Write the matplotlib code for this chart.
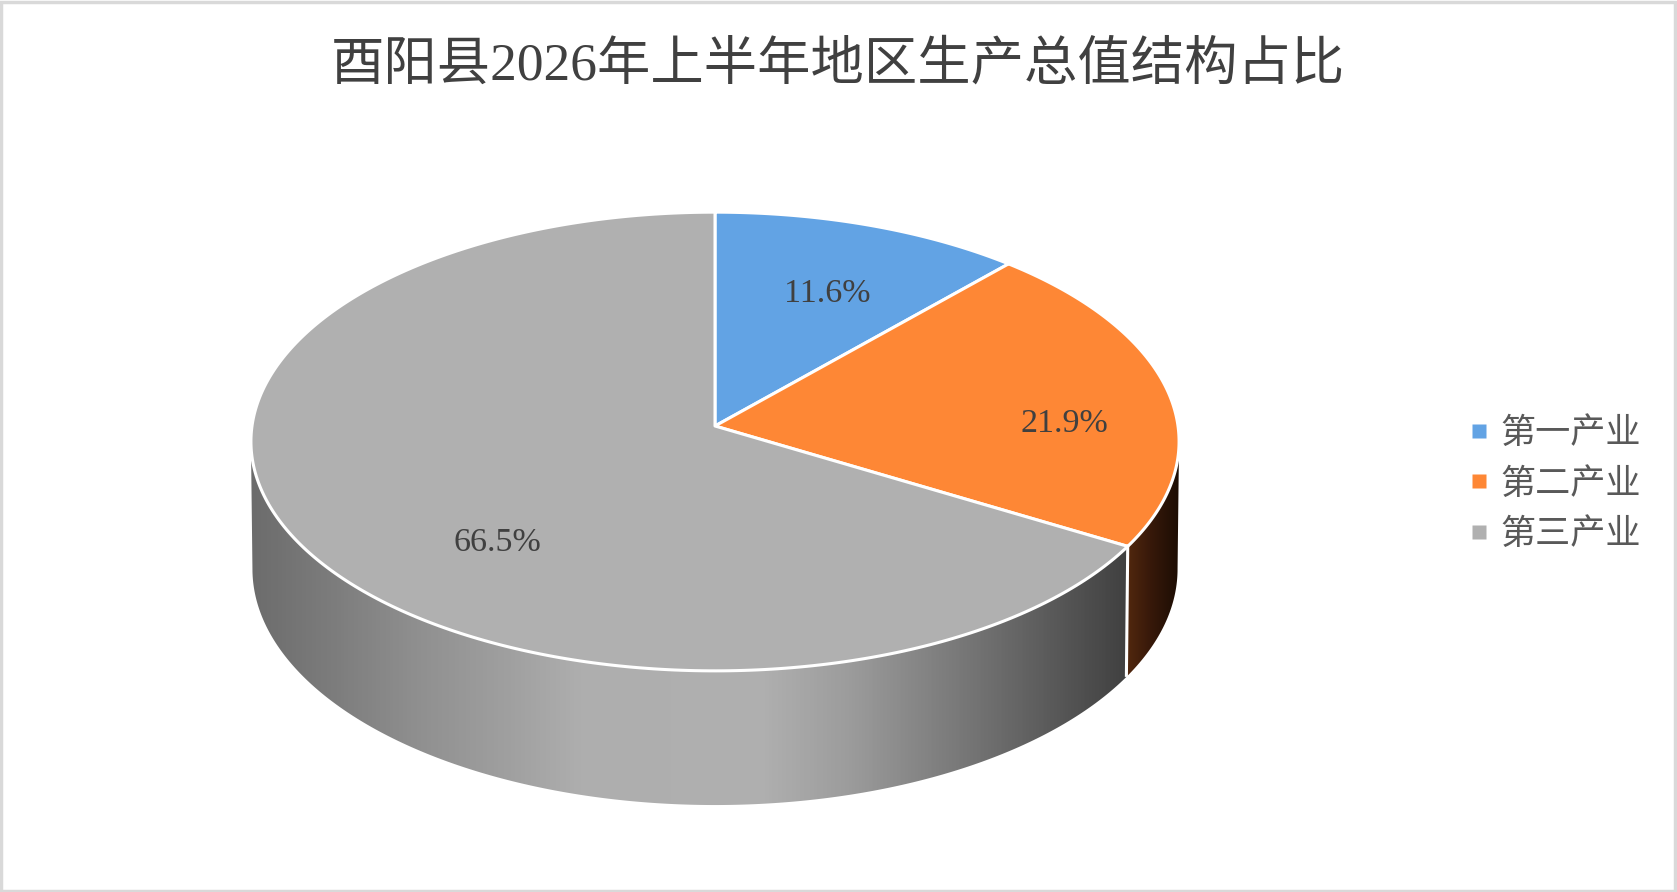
import numpy as np
import matplotlib
matplotlib.use("Agg")
import matplotlib.pyplot as plt
from matplotlib.patches import Polygon, Rectangle
from matplotlib.lines import Line2D
from matplotlib.colors import LinearSegmentedColormap

title = "酉阳县2026年上半年地区生产总值结构占比"
categories = ["第一产业", "第二产业", "第三产业"]
values = [11.6, 21.9, 66.5]
labels = ["11.6%", "21.9%", "66.5%"]

colors = ["#62a3e4", "#fe8735", "#b0b0b0"]
FONT = ["Liberation Serif", "Noto Sans CJK SC"]
TXT = "#404040"
W, H = 1677, 892

fig = plt.figure(figsize=(W / 100, H / 100), dpi=100, facecolor="white")
ax = fig.add_axes([0, 0, 1, 1])
ax.set_xlim(0, W)
ax.set_ylim(H, 0)
ax.axis("off")

CX, CY, RX, RY, K = 715, 426, 463, 228.3, 0.0676
BCY, BRX, BRY = 553, 461.5, 235


def top_rim(a):
    X, Y = np.sin(a), np.cos(a)
    return np.c_[CX + RX * X / (1 + K * Y), CY - RY * Y / (1 + K * Y)]


def bot_rim(a):
    X, Y = np.sin(a), np.cos(a)
    return np.c_[CX + BRX * X / (1 + K * Y), BCY - BRY * Y / (1 + K * Y)]


fracs = np.array(values) / sum(values)
edges = np.r_[0, np.cumsum(fracs)] * 2 * np.pi
apex = np.array([[CX, CY]])
right_ext = np.pi / 2 + np.arcsin(K)
left_ext = 1.5 * np.pi - np.arcsin(K)


def side(a0, a1, stops, z):
    a = np.linspace(a0, a1, 300)
    t, b = top_rim(a), bot_rim(a)
    poly = Polygon(np.r_[t, b[::-1]], closed=True, fc="none", ec="none", zorder=z)
    ax.add_patch(poly)
    xs = np.array([s[0] for s in stops], float)
    cmap = LinearSegmentedColormap.from_list(
        "g", [((x - xs[0]) / (xs[-1] - xs[0]), s[1]) for x, s in zip(xs, stops)]
    )
    grad = np.linspace(0, 1, 512)[None, :]
    im = ax.imshow(grad, extent=(xs[0], xs[-1], H, 0), cmap=cmap, aspect="auto", zorder=z)
    im.set_clip_path(poly)


# Sides: orange (right edge) and gray (front)
side(right_ext, edges[2], [(1118, "#5c2e10"), (1150, "#38190a"), (1185, "#160a02")], 1)
side(edges[2], left_ext,
     [(240, "#6a6a6a"), (330, "#7c7c7c"), (420, "#909090"), (520, "#a2a2a2"),
      (580, "#aeaeae"), (760, "#b0b0b0"), (850, "#9c9c9c"), (950, "#7c7c7c"),
      (1040, "#5e5e5e"), (1130, "#404040")], 1)
ax.set_xlim(0, W)
ax.set_ylim(H, 0)

# Divider on the side wall
seam = np.r_[top_rim(np.array([edges[2]])), bot_rim(np.array([edges[2]]))]
ax.plot(seam[:, 0], seam[:, 1], color="white", lw=2.2, zorder=2, solid_capstyle="butt")

# Top face
for i, c in enumerate(colors):
    arc = top_rim(np.linspace(edges[i], edges[i + 1], 300))
    ax.add_patch(Polygon(np.r_[apex, arc], closed=True, fc=c, ec="white", lw=2.2,
                         joinstyle="round", zorder=3 + i * 0.01))

# Labels
label_pos = [(827, 294), (1064, 424), (497, 543)]
for s, (x, y) in zip(labels, label_pos):
    ax.text(x, y, s, family=FONT, fontsize=24.5, color=TXT, ha="center", va="center", zorder=5)

ax.text(837.5, 66, title, family=FONT, fontsize=38.4, color=TXT, ha="center", va="center",
        fontweight="light")

handles = [Line2D([], [], ls="", marker="s", ms=10, mfc=c, mec="none") for c in colors]
ax.legend(handles, categories, loc="center left", bbox_to_anchor=(1461, 485),
          bbox_transform=ax.transData, frameon=False, handletextpad=0.12, handlelength=1.0,
          labelspacing=0.5, borderpad=0, borderaxespad=0,
          prop={"family": FONT, "size": 25.3, "weight": "light"}, labelcolor="#595959")

ax.add_patch(Rectangle((1.5, 1.5), W - 3, H - 3, fc="none", ec="#d9d9d9", lw=2.5, zorder=6))

fig.savefig("out.png", dpi=100, facecolor="white")
